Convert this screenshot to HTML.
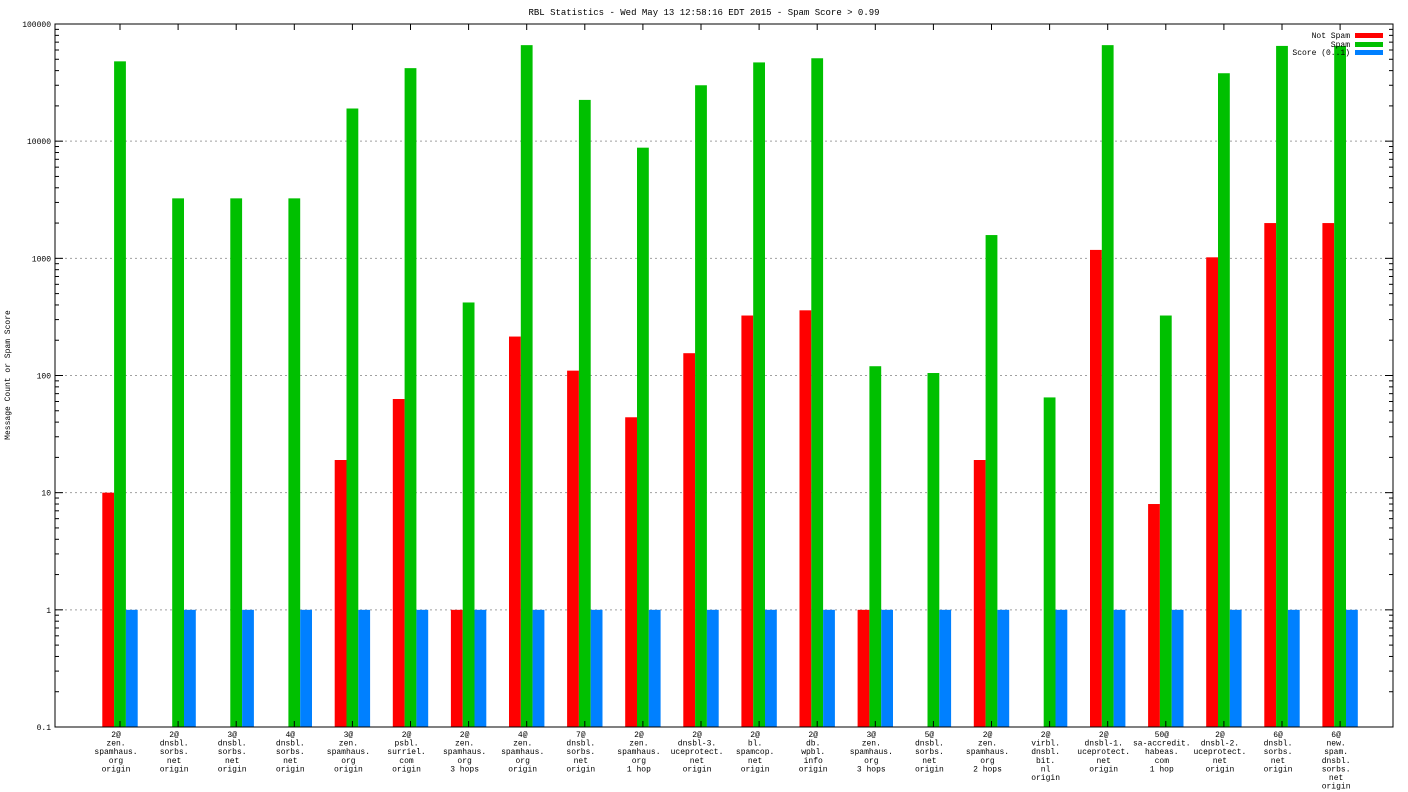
<!DOCTYPE html>
<html><head><meta charset="utf-8"><style>
html,body{margin:0;padding:0;background:#fff}
svg{display:block;font-family:"Liberation Mono","DejaVu Sans Mono",monospace}
</style></head><body>
<svg id="c" width="1408" height="792">
<text x="704" y="15" font-size="9" text-anchor="middle">RBL Statistics - Wed May 13 12:58:16 EDT 2015 - Spam Score &gt; 0.99</text>
<text transform="translate(10,375) rotate(-90)" font-size="8" text-anchor="middle">Message Count or Spam Score</text>
<g id="grid"></g><g id="bars"></g><g id="axes"></g>
<g font-size="8">
<text x="1350" y="38" text-anchor="end">Not Spam</text>
<rect x="1355" y="33" width="28" height="5" fill="#ff0000"/>
<text x="1350" y="47" text-anchor="end">Spam</text>
<rect x="1355" y="42" width="28" height="5" fill="#00c000"/>
<text x="1350" y="55" text-anchor="end">Score (0..1)</text>
<rect x="1355" y="50" width="28" height="5" fill="#0080ff"/>
</g>
</svg>
<script>
const categories=[["2@","zen.","spamhaus.","org","origin"],["2@","dnsbl.","sorbs.","net","origin"],["3@","dnsbl.","sorbs.","net","origin"],["4@","dnsbl.","sorbs.","net","origin"],["3@","zen.","spamhaus.","org","origin"],["2@","psbl.","surriel.","com","origin"],["2@","zen.","spamhaus.","org","3 hops"],["4@","zen.","spamhaus.","org","origin"],["7@","dnsbl.","sorbs.","net","origin"],["2@","zen.","spamhaus.","org","1 hop"],["2@","dnsbl-3.","uceprotect.","net","origin"],["2@","bl.","spamcop.","net","origin"],["2@","db.","wpbl.","info","origin"],["3@","zen.","spamhaus.","org","3 hops"],["5@","dnsbl.","sorbs.","net","origin"],["2@","zen.","spamhaus.","org","2 hops"],["2@","virbl.","dnsbl.","bit.","nl","origin"],["2@","dnsbl-1.","uceprotect.","net","origin"],["50@","sa-accredit.","habeas.","com","1 hop"],["2@","dnsbl-2.","uceprotect.","net","origin"],["6@","dnsbl.","sorbs.","net","origin"],["6@","new.","spam.","dnsbl.","sorbs.","net","origin"]];
const notSpam=[10,null,null,null,19,63,1,215,110,44,155,325,360,1,null,19,null,1180,8,1020,2000,2000];
const spam=[48000,3250,3250,3250,19000,42000,420,66000,22500,8800,30000,47000,51000,120,105,1580,65,66000,325,38000,65000,65000];
const score=[1,1,1,1,1,1,1,1,1,1,1,1,1,1,1,1,1,1,1,1,1,1];
const yTicks=[0.1,1,10,100,1000,10000,100000];
const yTickLabels=["0.1","1","10","100","1000","10000","100000"];
const NS="http://www.w3.org/2000/svg";
const L=55,R=1393,T=24,B=727;
function y(v){return B-(Math.log10(v)-Math.log10(0.1))/6*(B-T);}
function xc(i){return 120+i*58.1;}
const bw=11.8;
function mk(t,a,p){const e=document.createElementNS(NS,t);for(const k in a)e.setAttribute(k,a[k]);p.appendChild(e);return e;}
const grid=document.getElementById('grid'),bars=document.getElementById('bars'),axes=document.getElementById('axes');
yTicks.forEach((v,i)=>{const yy=y(v);
 if(i>0&&i<yTicks.length-1){const g=mk('line',{x1:L,x2:R,y1:yy,y2:yy,stroke:'#a0a0a0','stroke-dasharray':'2,3','stroke-width':1},grid);
 
 }
 mk('line',{x1:L,x2:L+8,y1:yy,y2:yy,stroke:'#000'},axes);
 mk('line',{x1:R-8,x2:R,y1:yy,y2:yy,stroke:'#000'},axes);
 const t=mk('text',{x:L-4,y:yy+3,'font-size':8,'text-anchor':'end'},axes);t.textContent=yTickLabels[i];
 
 
 if(i<yTicks.length-1){for(let m=2;m<10;m++){const my=y(v*m);
  mk('line',{x1:L,x2:L+4,y1:my,y2:my,stroke:'#000'},axes);mk('line',{x1:R-4,x2:R,y1:my,y2:my,stroke:'#000'},axes);}}
});
const series=[[notSpam,'#ff0000',-1,'not-spam'],[spam,'#00c000',0,'spam'],[score,'#0080ff',1,'score']];
categories.forEach((c,i)=>{
 series.forEach(s=>{const v=s[0][i];if(v==null)return;
  const x0=xc(i)+s[2]*bw-bw/2;const r=mk('rect',{x:x0,y:y(v),width:bw,height:B-y(v),fill:s[1]},bars);
  
  });
 mk('line',{x1:xc(i),x2:xc(i),y1:B,y2:B-6,stroke:'#000'},axes);
 mk('line',{x1:xc(i),x2:xc(i),y1:T,y2:T+6,stroke:'#000'},axes);
 const t=mk('text',{x:xc(i)-4,y:737,'font-size':8,'text-anchor':'middle'},axes);
 
 
 c.forEach((ln,j)=>{const ts=mk('tspan',{x:xc(i)-4,dy:j?8.6:0},t);ts.textContent=ln;});
});
const fr=mk('rect',{x:L,y:T,width:R-L,height:B-T,fill:'none',stroke:'#000'},axes);


</script>
</body></html>
